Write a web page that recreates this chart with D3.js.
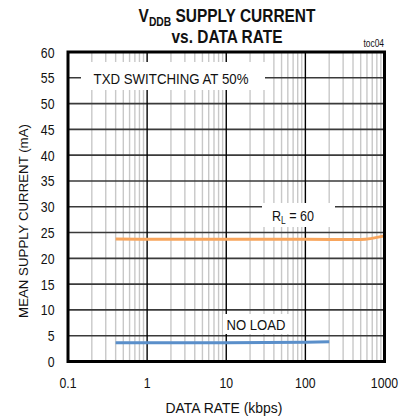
<!DOCTYPE html>
<html><head><meta charset="utf-8">
<script src="https://cdn.jsdelivr.net/npm/d3@7"></script>
<style>
body{margin:0;background:#fff;}
text{font-family:"Liberation Sans",Arial,sans-serif;fill:#111;}
</style></head>
<body><svg id="c" width="401" height="420"></svg>
<script>
// data
const xTicks = [0.1, 1, 10, 100, 1000];
const yTicks = [0, 5, 10, 15, 20, 25, 30, 35, 40, 45, 50, 55, 60];
const rlRate = [0.4, 1, 10, 100, 500, 1000];
const rlCurrent = [23.75, 23.7, 23.7, 23.7, 23.65, 24.35];
const noLoadRate = [0.4, 1, 10, 100, 200];
const noLoadCurrent = [3.65, 3.65, 3.65, 3.75, 3.85];

const svg = d3.select("#c");
const m = {l: 68, r: 384.5, t: 52, b: 361.5};
const x = d3.scaleLog().domain([0.1, 1000]).range([m.l, m.r]);
const y = d3.scaleLinear().domain([0, 60]).range([m.b, m.t]);

// text helper: places text, squeezes horizontally (narrow font look)
function txt(px, py, opts) {
  const g = svg.append("g").attr("transform", `translate(${px},${py})`);
  const t = g.append("text").attr("text-anchor", opts.anchor || "middle")
    .attr("font-size", opts.size || 15).attr("font-weight", opts.bold ? "bold" : null);
  if (opts.text !== undefined) t.text(opts.text);
  if (opts.build) opts.build(t);
  let sx = opts.sx || 0.82;
  if (opts.width) sx = opts.width / t.node().getBBox().width;
  const inner = t;
  g.attr("transform", `translate(${px},${py})` + (opts.rot ? ` rotate(${opts.rot})` : "") + ` scale(${sx},1)`);
  return inner;
}

// minor vertical grid
const minors = [];
for (let d = 0.1; d < 1000; d *= 10) for (let k = 2; k <= 9; k++) minors.push(d * k);
svg.append("g").selectAll("line").data(minors).join("line")
  .attr("x1", d => x(d)).attr("x2", d => x(d)).attr("y1", m.t).attr("y2", m.b)
  .attr("stroke", "#c8c8c8").attr("stroke-width", 1.4);
// horizontal grid
svg.append("g").selectAll("line").data(yTicks).join("line")
  .attr("x1", m.l).attr("x2", m.r).attr("y1", d => y(d)).attr("y2", d => y(d))
  .attr("stroke", "#3a3a3a").attr("stroke-width", 1.6);
// major vertical grid
svg.append("g").selectAll("line").data(xTicks).join("line")
  .attr("x1", d => x(d)).attr("x2", d => x(d)).attr("y1", m.t).attr("y2", m.b)
  .attr("stroke", "#000").attr("stroke-width", 1.4);

// label boxes
function box(x0, y0, x1, y1) {
  svg.append("rect").attr("x", x0).attr("y", y0).attr("width", x1 - x0).attr("height", y1 - y0).attr("fill", "#fff");
}
box(81, 62, 265, 90);
txt(171, 84, {text: "TXD  SWITCHING  AT 50%", size: 15, width: 155});
box(262, 203, 335, 227);
txt(293, 221, {size: 15, width: 42, build: t => {
  t.append("tspan").text("R");
  t.append("tspan").attr("font-size", 10).attr("dy", 3).text("L");
  t.append("tspan").attr("dy", -3).text(" = 60");
}});
box(223, 314, 292, 334);
txt(256, 330, {text: "NO LOAD", size: 15, width: 59});

// lines
const line = d3.line().x(d => x(d[0])).y(d => y(d[1])).curve(d3.curveMonotoneX);
svg.append("path").datum(rlRate.map((r, i) => [r, rlCurrent[i]])).attr("d", line)
  .attr("fill", "none").attr("stroke", "#f8a55c").attr("stroke-width", 3);
svg.append("path").datum(noLoadRate.map((r, i) => [r, noLoadCurrent[i]])).attr("d", line)
  .attr("fill", "none").attr("stroke", "#5a8fca").attr("stroke-width", 3);

// frame
svg.append("rect").attr("x", m.l).attr("y", m.t).attr("width", m.r - m.l).attr("height", m.b - m.t)
  .attr("fill", "none").attr("stroke", "#000").attr("stroke-width", 3);

// tick labels
yTicks.forEach(d => txt(54.5, y(d) + 5.5, {text: d, anchor: "end", size: 15, sx: 0.82}));
xTicks.forEach(d => txt(x(d), 388, {text: d3.format("~g")(d), size: 15, sx: 0.82}));
txt(224, 413, {text: "DATA RATE  (kbps)", size: 15, width: 117});
txt(28, 221, {text: "MEAN SUPPLY CURRENT (mA)", size: 13.5, width: 194, rot: -90});

// title
txt(227, 22, {size: 18, bold: true, width: 177, build: t => {
  t.append("tspan").text("V");
  t.append("tspan").attr("font-size", 12).attr("dy", 4).text("DDB");
  t.append("tspan").attr("dy", -4).text(" SUPPLY CURRENT");
}});
txt(227, 43, {text: "vs. DATA RATE", size: 18, bold: true, width: 111});
txt(384, 47, {text: "toc04", size: 10, anchor: "end", width: 21});
</script></body></html>
